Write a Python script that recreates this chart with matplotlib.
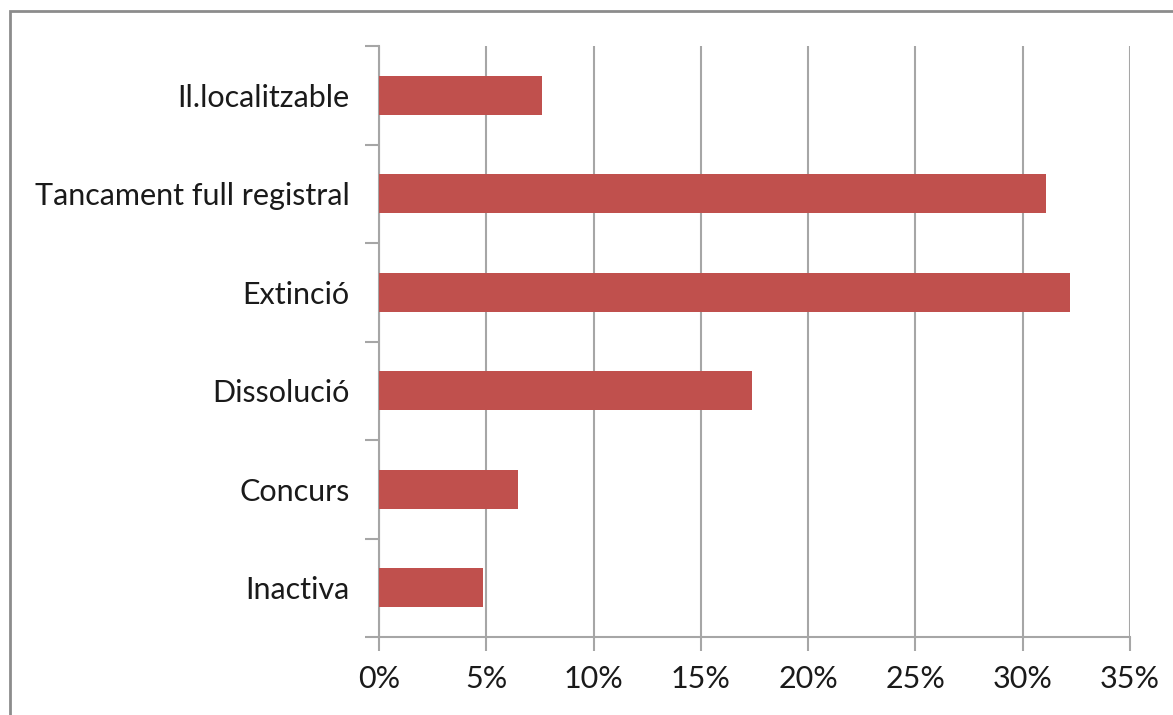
import matplotlib
matplotlib.use("Agg")
import matplotlib.pyplot as plt
from matplotlib.ticker import FixedLocator, PercentFormatter
from matplotlib.patches import Rectangle

# categories bottom to top
categories = ["Inactiva", "Concurs", "Dissolució", "Extinció",
              "Tancament full registral", "Il.localitzable"]
values = [4.86, 6.48, 17.4, 32.2, 31.1, 7.58]
xticks = [0, 5, 10, 15, 20, 25, 30, 35]

plt.rcParams['font.family'] = ['Lato', 'DejaVu Sans']

fig = plt.figure(figsize=(11.73, 7.15), dpi=100)
ax = fig.add_axes([379/1173, 1-637/715, (1130-379)/1173, (637-46)/715])

ypos = range(len(categories))
ax.barh(ypos, values, height=0.4, color='#C0504D', zorder=3)

ax.set_xlim(0, 35)
ax.set_ylim(-0.5, len(categories)-0.5)
ax.set_xticks(xticks)
ax.xaxis.set_major_formatter(PercentFormatter(decimals=0))
ax.grid(axis='x', color='#A6A6A6', linewidth=1.5, zorder=0)

ax.set_yticks(list(ypos))
ax.set_yticklabels(categories)
ax.yaxis.set_minor_locator(FixedLocator([i - 0.5 for i in range(len(categories)+1)]))
ax.tick_params(axis='y', which='major', length=0, pad=21, labelsize=22, colors='#1a1a1a')
ax.tick_params(axis='y', which='minor', length=10, width=1.5, color='#A6A6A6')
ax.tick_params(axis='x', length=10, width=1.5, color='#A6A6A6', labelsize=22,
               labelcolor='#1a1a1a', pad=10)

for s in ['top', 'right']:
    ax.spines[s].set_visible(False)
for s in ['left', 'bottom']:
    ax.spines[s].set_color('#A6A6A6')
    ax.spines[s].set_linewidth(1.5)

# outer chart border
fig.patches.append(Rectangle((10/1173, -0.05), 1.2, 1-11/715+0.05,
                             transform=fig.transFigure, fill=False,
                             edgecolor='#8c8c8c', linewidth=2))

fig.savefig("out.png", dpi=100)
